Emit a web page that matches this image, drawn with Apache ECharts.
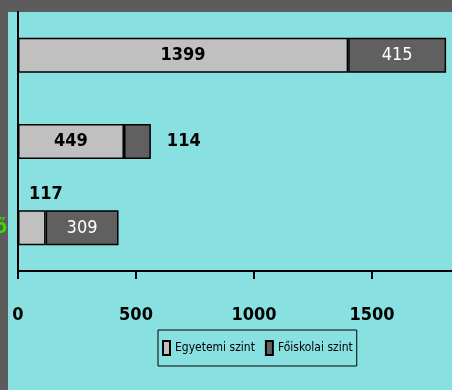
<!DOCTYPE html>
<html><head><meta charset="utf-8">
<script src="https://cdn.jsdelivr.net/npm/echarts@6/dist/echarts.min.js"></script>
<style>html,body{margin:0;padding:0;background:#5c5c5c;}#c{width:452px;height:390px;}</style>
</head><body><div id="c"></div>
<script>
// categories bottom-to-top
const categories = ['Levelező', '', ''];
const seriesNames = ['Egyetemi szint', 'Főiskolai szint'];
const egyetemi = [117, 449, 1399];
const foiskolai = [309, 114, 415];
const xTicks = [0, 500, 1000, 1500];

const FONT = '"DejaVu Sans Condensed", "Liberation Sans Narrow", sans-serif';
const chart = echarts.init(document.getElementById('c'));

const lightData = egyetemi.map((v, i) => {
  if (i === 0) return {value: v, label: {position: 'top', offset: [14, -2]}};
  return v;
});
const darkData = foiskolai.map((v, i) => {
  if (i === 1) return {value: v, label: {position: 'right', distance: 16, color: '#000', fontWeight: 'bold'}};
  return v;
});

chart.setOption({
  backgroundColor: '#88e0e0',
  animation: false,
  graphic: {elements: [
    {type: 'rect', z: -100, shape: {x: 0, y: 0, width: 452, height: 12}, style: {fill: '#5c5c5c'}},
    {type: 'rect', z: -100, shape: {x: 0, y: 0, width: 8, height: 390}, style: {fill: '#5c5c5c'}}
  ]},
  grid: {left: 18, top: 12, right: 0, bottom: 119, containLabel: false, outerBoundsMode: 'none'},
  legend: {
    left: 158, top: 330,
    data: seriesNames,
    borderColor: '#000', borderWidth: 1,
    padding: [10, 4, 10, 4],
    itemWidth: 7, itemHeight: 14, itemGap: 10,
    textStyle: {fontFamily: FONT, fontSize: 12, color: '#000', fontWeight: 'normal'},
    icon: 'rect'
  },
  xAxis: {
    type: 'value', min: 0, max: 1839, interval: 500,
    splitLine: {show: false},
    axisLine: {show: true, lineStyle: {color: '#000', width: 2}},
    axisTick: {show: true, length: 8, lineStyle: {color: '#000', width: 2}},
    axisLabel: {showMaxLabel: false, margin: 35, color: '#000', fontFamily: FONT, fontSize: 18, fontWeight: 'bold',
      formatter: v => xTicks.includes(v) ? String(v) : ''}
  },
  yAxis: {
    type: 'category', data: categories,
    axisLine: {show: true, lineStyle: {color: '#000', width: 2}},
    axisTick: {show: false},
    axisLabel: {margin: 11, color: '#33dd00', fontFamily: FONT, fontSize: 20, fontWeight: 'bold'}
  },
  series: [
    {name: seriesNames[0], type: 'bar', stack: 's', barWidth: 35, data: lightData,
      itemStyle: {color: '#c0c0c0', borderColor: '#000', borderWidth: 1.5},
      label: {show: true, position: 'inside', color: '#000', fontFamily: FONT, fontSize: 18, fontWeight: 'bold'}},
    {name: seriesNames[1], type: 'bar', stack: 's', barWidth: 35, data: darkData,
      itemStyle: {color: '#606060', borderColor: '#000', borderWidth: 1.5},
      label: {show: true, position: 'inside', color: '#fff', fontFamily: FONT, fontSize: 18}}
  ]
});
</script></body></html>
